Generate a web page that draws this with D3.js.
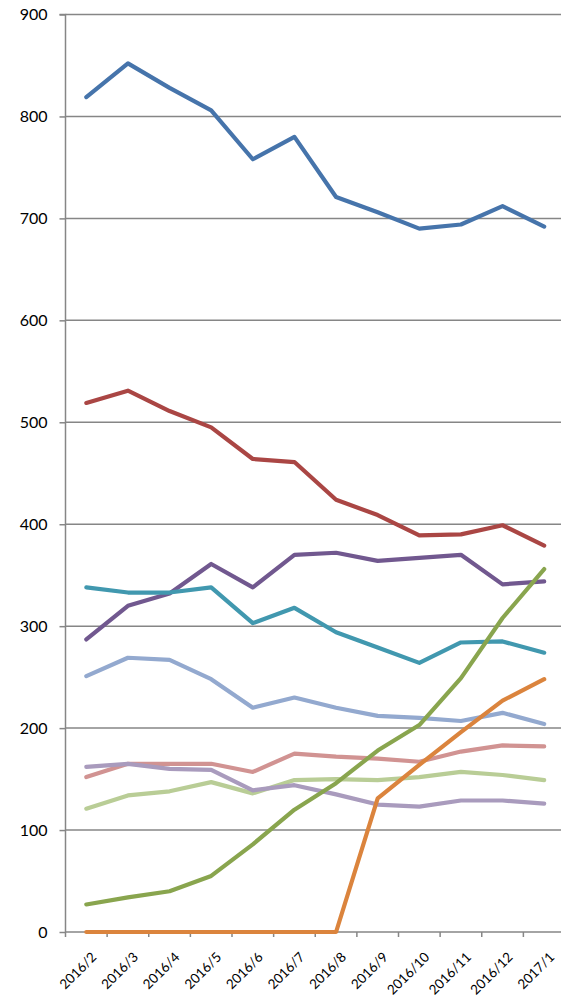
<!DOCTYPE html>
<html>
<head>
<meta charset="utf-8">
<script src="https://cdn.jsdelivr.net/npm/d3@7"></script>
<style>
  html, body { margin: 0; padding: 0; background: #fff; }
  svg { display: block; }
  text { font-family: Lato, "Open Sans", sans-serif; fill: #000; }
</style>
</head>
<body>
<svg id="chart" width="561" height="997"></svg>
<script>
const categories = ["2016/2","2016/3","2016/4","2016/5","2016/6","2016/7","2016/8","2016/9","2016/10","2016/11","2016/12","2017/1"];
const yTicks = [0,100,200,300,400,500,600,700,800,900];

const seriesBlue        = [819, 852, 828, 806, 758, 780, 721, 706, 690, 694, 712, 692];
const seriesRed         = [519, 531, 511, 495, 464, 461, 424, 409, 389, 390, 399, 379];
const seriesPurple      = [287, 320, 332, 361, 338, 370, 372, 364, 367, 370, 341, 344];
const seriesTeal        = [338, 333, 333, 338, 303, 318, 294, 279, 264, 284, 285, 274];
const seriesLightBlue   = [251, 269, 267, 248, 220, 230, 220, 212, 210, 207, 215, 204];
const seriesPink        = [152, 165, 165, 165, 157, 175, 172, 170, 167, 177, 183, 182];
const seriesLightGreen  = [121, 134, 138, 147, 136, 149, 150, 149, 152, 157, 154, 149];
const seriesLightPurple = [162, 165, 160, 159, 139, 144, 135, 125, 123, 129, 129, 126];
const seriesGreen       = [27, 34, 40, 55, 86, 120, 146, 178, 203, 249, 308, 356];
const seriesOrange      = [0, 0, 0, 0, 0, 0, 0, 131, 164, 196, 227, 248];

const series = [
  { values: seriesBlue,        color: "#4674AB" },
  { values: seriesRed,         color: "#AA4644" },
  { values: seriesPurple,      color: "#71588F" },
  { values: seriesTeal,        color: "#4198AF" },
  { values: seriesLightBlue,   color: "#93A9CF" },
  { values: seriesPink,        color: "#D19392" },
  { values: seriesLightGreen,  color: "#B9CD96" },
  { values: seriesLightPurple, color: "#A99BBD" },
  { values: seriesGreen,       color: "#89A54E" },
  { values: seriesOrange,      color: "#DB843D" }
];

const svg = d3.select("#chart");
const W = 561;
const mLeft = 65.5, mRight = 565, mTop = 14.5, mBottom = 932;

const x = d3.scaleBand().domain(categories).range([mLeft, mRight]).padding(0);
const y = d3.scaleLinear().domain([0, 900]).range([mBottom, mTop]);

const gridColor = "#868686";

// gridlines
svg.append("g").selectAll("line").data(yTicks.filter(d => d > 0)).join("line")
  .attr("x1", mLeft).attr("x2", W)
  .attr("y1", d => y(d)).attr("y2", d => y(d))
  .attr("stroke", gridColor).attr("stroke-width", 1.5);

// y axis
const yAxis = d3.axisLeft(y).tickValues(yTicks).tickSize(6).tickPadding(12).tickFormat(d3.format("d"));
const gy = svg.append("g").attr("transform", `translate(${mLeft},0)`).call(yAxis);
gy.select(".domain").attr("stroke", gridColor).attr("stroke-width", 1.5).attr("d", `M-6,${mTop}H0V${mBottom}`);
gy.selectAll(".tick line").attr("stroke", gridColor).attr("stroke-width", 1.5);
gy.selectAll(".tick text").attr("font-size", 16).attr("font-family", "Lato, sans-serif").attr("fill", "#000");

// x axis
const xAxis = d3.axisBottom(x).tickSize(0).tickFormat(d => d);
const gx = svg.append("g").attr("transform", `translate(0,${mBottom})`).call(xAxis);
gx.select(".domain").attr("stroke", gridColor).attr("stroke-width", 1.5).attr("d", `M${mLeft},0H${W}`);
gx.selectAll(".tick text")
  .attr("font-size", 13.5).attr("font-family", "Lato, sans-serif").attr("fill", "#000")
  .attr("text-anchor", "end")
  .attr("y", 0).attr("dy", 0)
  .attr("transform", "translate(11,26) rotate(-45)");
// boundary tick marks
const bounds = categories.map(c => x(c)).concat([x(categories[categories.length - 1]) + x.bandwidth()]);
gx.append("g").selectAll("line").data(bounds.filter(b => b <= W)).join("line")
  .attr("x1", d => d).attr("x2", d => d).attr("y1", 0).attr("y2", 5)
  .attr("stroke", gridColor).attr("stroke-width", 1.5);

// lines
const line = d3.line()
  .x((d, i) => x(categories[i]) + x.bandwidth() / 2)
  .y(d => y(d));

svg.append("g").selectAll("path").data(series).join("path")
  .attr("d", s => line(s.values))
  .attr("fill", "none")
  .attr("stroke", s => s.color)
  .attr("stroke-width", 4.2)
  .attr("stroke-linejoin", "round")
  .attr("stroke-linecap", "round");
</script>
</body>
</html>
